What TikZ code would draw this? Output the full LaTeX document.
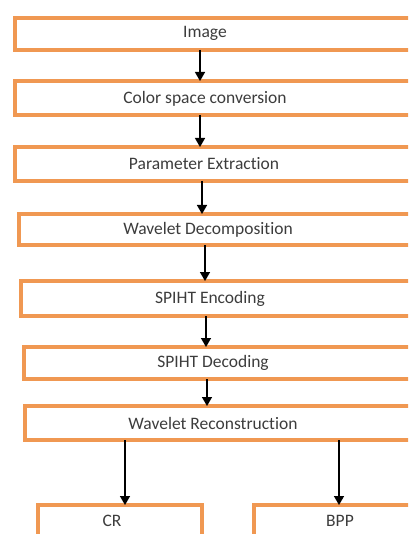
\documentclass[tikz,border=0pt]{standalone}
\usepackage{fontspec}
\setmainfont[Ligatures={NoCommon,NoRare,NoDiscretionary}]{Carlito}
\usetikzlibrary{arrows.meta}
\definecolor{boxorange}{RGB}{240,152,82}
\definecolor{txtgray}{RGB}{60,60,60}
\tikzset{
  box/.style={draw=boxorange, line width=4pt, anchor=north west, inner sep=0pt},
  lbl/.style={text=txtgray, font=\fontsize{17.5}{20}\selectfont, inner sep=0pt},
  arr/.style={line width=1.4pt, -{Triangle[length=9pt,width=10pt]}}
}
\begin{document}
\begin{tikzpicture}[x=1pt,y=-1pt]
\useasboundingbox (0,0) rectangle (408,534);
\clip (0,0) rectangle (408,534);
% boxes (border centre lines)
\node[box, minimum width=410pt, minimum height=32pt] (b1) at (13,16) {};
\node[box, minimum width=410pt, minimum height=34pt] (b2) at (13,79) {};
\node[box, minimum width=410pt, minimum height=34pt] (b3) at (13,145) {};
\node[box, minimum width=410pt, minimum height=31pt] (b4) at (17,212) {};
\node[box, minimum width=410pt, minimum height=35pt] (b5) at (19,279) {};
\node[box, minimum width=410pt, minimum height=32pt] (b6) at (22,345) {};
\node[box, minimum width=410pt, minimum height=34pt] (b7) at (23,404) {};
\node[box, minimum width=164pt, minimum height=60pt] (cr) at (36,503) {};
\node[box, minimum width=200pt, minimum height=60pt] (bpp) at (252,503) {};
% labels
\node[lbl] (t1) at (205,33) {Image};
\node[lbl] (t2) at (205,99) {Color space conversion};
\node[lbl] (t3) at (204,164) {Parameter Extraction};
\node[lbl] (t4) at (208,230) {Wavelet Decomposition};
\node[lbl] (t5) at (210,299) {SPIHT Encoding};
\node[lbl] (t6) at (213,363) {SPIHT Decoding};
\node[lbl] (t7) at (213,423) {Wavelet Reconstruction};
\node[lbl] (t8) at (112,521) {CR};
\node[lbl] (t9) at (340,521) {BPP};
% arrow x positions
\coordinate (x1) at (200,0);
\coordinate (x2) at (200,0);
\coordinate (x3) at (202,0);
\coordinate (x4) at (205,0);
\coordinate (x5) at (206,0);
\coordinate (x6) at (207,0);
\coordinate (x7) at (125,0);
\coordinate (x8) at (339,0);
\draw[arr] ([yshift=2pt]b1.south -| x1) -- ([yshift=-2pt]b2.north -| x1);
\draw[arr] ([yshift=2pt]b2.south -| x2) -- ([yshift=-2pt]b3.north -| x2);
\draw[arr] ([yshift=2pt]b3.south -| x3) -- ([yshift=-2pt]b4.north -| x3);
\draw[arr] ([yshift=2pt]b4.south -| x4) -- ([yshift=-2pt]b5.north -| x4);
\draw[arr] ([yshift=2pt]b5.south -| x5) -- ([yshift=-2pt]b6.north -| x5);
\draw[arr] ([yshift=2pt]b6.south -| x6) -- ([yshift=-2pt]b7.north -| x6);
\draw[arr] ([yshift=2pt]b7.south -| x7) -- ([yshift=-2pt]cr.north -| x7);
\draw[arr] ([yshift=2pt]b7.south -| x8) -- ([yshift=-2pt]bpp.north -| x8);
\end{tikzpicture}
\end{document}
